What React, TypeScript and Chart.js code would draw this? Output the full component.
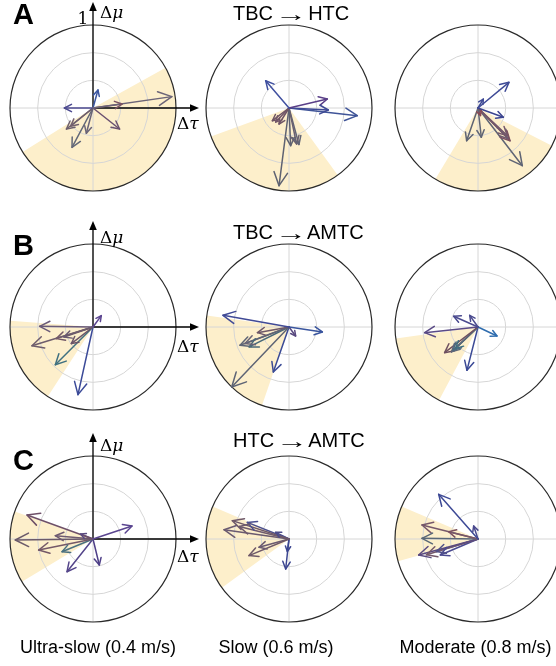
import React, { useEffect, useRef } from "react";
import { Chart, registerables } from "chart.js";
Chart.register(...registerables);

// ---------- text ----------
const rowTitleFrom = ["TBC", "TBC", "HTC"];
const rowTitleTo = ["HTC", "AMTC", "AMTC"];
const titleArrow = "→";
const rowLetters = ["A", "B", "C"];
const speedLabels = ["Ultra-slow (0.4 m/s)", "Slow (0.6 m/s)", "Moderate (0.8 m/s)"];
const ringLevels = [1 / 3, 2 / 3, 1];
const axisMaxLabel = "1";

// ---------- shaded wedge angles (degrees, counter-clockwise from +Δτ) ----------
const wedgeFrom = [
  [-148, -160, -121],
  [175.6, 172, 188],
  [160.6, 157, 157],
];
const wedgeTo = [
  [29, -54, -27],
  [237, 251, 242],
  [211, 216, 195.5],
];

// ---------- arrow tips (Δτ, Δμ) ----------
// A: TBC -> HTC
const aUltraDx = [0.95, 0.35, 0.06, -0.345, -0.32, -0.27, -0.253, -0.08, 0.32];
const aUltraDy = [0.137, 0.048, 0.217, 0, -0.253, -0.22, -0.474, -0.305, -0.253];
const aSlowDx = [-0.281, 0.462, 0.474, 0.823, -0.2, -0.12, -0.16, 0.02, 0.092, 0.12, -0.12];
const aSlowDy = [0.329, 0.108, -0.024, -0.092, -0.153, -0.193, -0.17, -0.454, -0.434, -0.44, -0.936];
const aModDx = [0.373, 0.064, 0.305, 0.353, 0.373, 0.386, 0.534, 0.04, -0.137, 0.03];
const aModDy = [0.309, 0.108, -0.112, -0.333, -0.373, -0.394, -0.695, -0.353, -0.394, -0.09];
// B: TBC -> AMTC
const bUltraDx = [0.1, -0.643, -0.735, -0.442, -0.261, -0.454, -0.181, -0.35];
const bUltraDy = [0.137, 0.008, -0.225, -0.14, -0.2, -0.454, -0.815, -0.12];
const bSlowDx = [-0.795, 0.402, 0.08, -0.38, -0.59, -0.48, -0.53, -0.69, -0.189];
const bSlowDy = [0.141, -0.06, -0.108, -0.068, -0.22, -0.24, -0.2, -0.723, -0.542];
const bModDx = [-0.293, -0.1, -0.643, 0.229, -0.402, -0.32, -0.27, -0.3, -0.133];
const bModDy = [0.129, 0.14, -0.068, -0.108, -0.309, -0.3, -0.26, -0.28, -0.522];
// C: HTC -> AMTC
const cUltraDx = [0.47, -0.795, -0.936, -0.454, -0.655, -0.373, -0.313, 0.076, -0.15];
const cUltraDy = [0.157, 0.289, -0.012, 0.04, -0.133, -0.153, -0.394, -0.313, 0.06];
const cSlowDx = [-0.683, -0.783, -0.502, -0.6, -0.482, -0.361, -0.04, -0.02, -0.16];
const cSlowDy = [0.221, 0.112, 0.2, 0.15, -0.2, -0.1, -0.361, -0.15, 0.08];
const cModDx = [-0.474, -0.052, -0.675, -0.353, -0.675, -0.715, -0.62, -0.454, -0.5];
const cModDy = [0.538, 0.157, 0.169, 0.088, 0.008, -0.193, -0.19, -0.193, -0.15];

// ---------- arrow colours ----------
const aUltraCol = ["#6b6478", "#7a5262", "#3b55a0", "#4c4a90", "#6d5f6e", "#74606e", "#636878", "#6a6478", "#6a5070"];
const aSlowCol = ["#4050a0", "#5a3f88", "#3f4a95", "#3f5498", "#6e5565", "#6e5565", "#74586a", "#5f6270", "#6a6070", "#626575", "#5e6272"];
const aModCol = ["#3e4a96", "#3f4a95", "#3c4590", "#74586a", "#6d5c70", "#7a5060", "#5f6474", "#606574", "#5d6373", "#8a4a55"];
const bUltraCol = ["#5b4590", "#6a5a78", "#6e5d6c", "#725868", "#6a5468", "#3f7080", "#3b4a98", "#6a5a70"];
const bSlowCol = ["#404a96", "#3a559e", "#5a4a80", "#6e5868", "#5f6575", "#4a6a7a", "#6a6476", "#5e6475", "#3b4b96"];
const bModCol = ["#4a4a8e", "#4a4a8e", "#5a4a86", "#2e6cae", "#6e5060", "#5f6678", "#3e7080", "#4a6a80", "#3b4a96"];
const cUltraCol = ["#5a4590", "#6e5068", "#6b5a6a", "#6e5a70", "#745868", "#4a7080", "#54458a", "#4e3f88", "#5a4a80"];
const cSlowCol = ["#6e5868", "#6a5a70", "#4a4f90", "#6e5a6e", "#6e5868", "#6a5a70", "#3b4590", "#3b4590", "#4a4a8a"];
const cModCol = ["#3e4a96", "#4a4a8e", "#76586a", "#7a5060", "#5a6878", "#5a4a80", "#74586a", "#4a4a90", "#505088"];

const panelDx = [
  [aUltraDx, aSlowDx, aModDx],
  [bUltraDx, bSlowDx, bModDx],
  [cUltraDx, cSlowDx, cModDx],
];
const panelDy = [
  [aUltraDy, aSlowDy, aModDy],
  [bUltraDy, bSlowDy, bModDy],
  [cUltraDy, cSlowDy, cModDy],
];
const panelCol = [
  [aUltraCol, aSlowCol, aModCol],
  [bUltraCol, bSlowCol, bModCol],
  [cUltraCol, cSlowCol, cModCol],
];

// ---------- layout ----------
const colCenters = [92.5, 288.5, 478];
const rowCenters = [107.5, 327, 538.7];
const RADIUS_PX = 83;
const CANVAS = 240;
const HALF = CANVAS / 2 / RADIUS_PX;
const AXIS_LEN = 1.277;
const WEDGE_COLOR = "#fdefcb";
const GRID_COLOR = "#d6d6d6";
const FONT_SANS = '"Liberation Sans", Arial, Helvetica, sans-serif';
const FONT_SERIF = '"DejaVu Serif", "Liberation Serif", serif';

function Panel({ row, col }: { row: number; col: number }) {
  const ref = useRef<HTMLCanvasElement | null>(null);
  useEffect(() => {
    if (!ref.current) return;
    const dx = panelDx[row][col];
    const dy = panelDy[row][col];
    const colors = panelCol[row][col];
    const a1 = wedgeFrom[row][col];
    const a2 = wedgeTo[row][col];
    const showAxes = col === 0;

    const backdrop = {
      id: "polarBackdrop",
      beforeDatasetsDraw(chart: any) {
        const ctx = chart.ctx;
        const xs = chart.scales.x;
        const ys = chart.scales.y;
        const cx = xs.getPixelForValue(0);
        const cy = ys.getPixelForValue(0);
        const R = xs.getPixelForValue(1) - cx;
        ctx.save();
        ctx.beginPath();
        ctx.moveTo(cx, cy);
        ctx.arc(cx, cy, R, (-a2 * Math.PI) / 180, (-a1 * Math.PI) / 180);
        ctx.closePath();
        ctx.fillStyle = WEDGE_COLOR;
        ctx.fill();
        ctx.strokeStyle = GRID_COLOR;
        ctx.lineWidth = 1;
        ringLevels.slice(0, 2).forEach((f) => {
          ctx.beginPath();
          ctx.arc(cx, cy, R * f, 0, Math.PI * 2);
          ctx.stroke();
        });
        ctx.beginPath();
        ctx.moveTo(xs.getPixelForValue(-1), cy);
        ctx.lineTo(xs.getPixelForValue(1), cy);
        ctx.moveTo(cx, ys.getPixelForValue(-1));
        ctx.lineTo(cx, ys.getPixelForValue(1));
        ctx.stroke();
        ctx.strokeStyle = "#2a2a2a";
        ctx.lineWidth = 1.2;
        ctx.beginPath();
        ctx.arc(cx, cy, R * ringLevels[2], 0, Math.PI * 2);
        ctx.stroke();
        if (showAxes) {
          const tx = xs.getPixelForValue(AXIS_LEN);
          const ty = ys.getPixelForValue(AXIS_LEN);
          ctx.strokeStyle = "#000";
          ctx.fillStyle = "#000";
          ctx.lineWidth = 1.3;
          ctx.beginPath();
          ctx.moveTo(cx, cy);
          ctx.lineTo(tx - 6, cy);
          ctx.moveTo(cx, cy);
          ctx.lineTo(cx, ty + 6);
          ctx.stroke();
          ctx.beginPath();
          ctx.moveTo(tx, cy);
          ctx.lineTo(tx - 9, cy - 3.8);
          ctx.lineTo(tx - 9, cy + 3.8);
          ctx.closePath();
          ctx.fill();
          ctx.beginPath();
          ctx.moveTo(cx, ty);
          ctx.lineTo(cx - 3.8, ty + 9);
          ctx.lineTo(cx + 3.8, ty + 9);
          ctx.closePath();
          ctx.fill();
        }
        ctx.restore();
      },
      afterDatasetsDraw(chart: any) {
        const ctx = chart.ctx;
        const half = (27 * Math.PI) / 180;
        ctx.save();
        chart.data.datasets.forEach((ds: any, i: number) => {
          const meta = chart.getDatasetMeta(i);
          const p0 = meta.data[0];
          const p1 = meta.data[1];
          if (!p0 || !p1) return;
          const ang = Math.atan2(p1.y - p0.y, p1.x - p0.x);
          const L = Math.hypot(p1.x - p0.x, p1.y - p0.y);
          const h = 4 + 0.14 * L;
          ctx.strokeStyle = ds.borderColor;
          ctx.lineWidth = 1.5;
          ctx.lineCap = "round";
          ctx.lineJoin = "round";
          ctx.beginPath();
          ctx.moveTo(p1.x - h * Math.cos(ang - half), p1.y - h * Math.sin(ang - half));
          ctx.lineTo(p1.x, p1.y);
          ctx.lineTo(p1.x - h * Math.cos(ang + half), p1.y - h * Math.sin(ang + half));
          ctx.stroke();
        });
        ctx.restore();
      },
    };

    const chart = new Chart(ref.current, {
      type: "scatter",
      data: {
        datasets: dx.map((x, i) => ({
          data: [
            { x: 0, y: 0 },
            { x, y: dy[i] },
          ],
          showLine: true,
          borderColor: colors[i],
          borderWidth: 1.5,
          pointRadius: 0,
          pointHoverRadius: 0,
          borderCapStyle: "round",
        })),
      },
      options: {
        responsive: false,
        animation: false,
        events: [],
        layout: { padding: 0 },
        plugins: { legend: { display: false }, tooltip: { enabled: false }, title: { display: false } },
        scales: {
          x: { type: "linear", min: -HALF, max: HALF, display: false },
          y: { type: "linear", min: -HALF, max: HALF, display: false },
        },
      },
      plugins: [backdrop],
    } as any);
    return () => chart.destroy();
  }, [row, col]);

  return (
    <canvas
      ref={ref}
      width={CANVAS}
      height={CANVAS}
      style={{
        position: "absolute",
        left: colCenters[col] - CANVAS / 2,
        top: rowCenters[row] - CANVAS / 2,
        width: CANVAS,
        height: CANVAS,
        display: "block",
      }}
    />
  );
}

const letterTops = [0.2, 230.5, 446];
const titleTops = [3, 222, 429.5];
const muTops = [4.3, 228.8, 437.3];
const tauTops = [115, 338, 548];
const labelCenters = [98, 276, 475.5];

export default function App() {
  const cells: any[] = [];
  for (let r = 0; r < 3; r++) for (let c = 0; c < 3; c++) cells.push(<Panel key={`${r}-${c}`} row={r} col={c} />);
  const abs = (extra: any) => ({ position: "absolute", whiteSpace: "nowrap", margin: 0, ...extra });
  return (
    <div style={{ position: "fixed", left: 0, top: 0, width: 556, height: 666, background: "#fff", overflow: "hidden" }}>
      {cells}
      {rowLetters.map((l, r) => (
        <div key={l} style={abs({ left: 13, top: letterTops[r], font: `bold 29px/29px ${FONT_SANS}`, color: "#000" })}>
          {l}
        </div>
      ))}
      {rowTitleFrom.map((t, r) => (
        <div key={"title" + r} style={abs({ left: 233, top: titleTops[r], font: `20px/20px ${FONT_SANS}`, color: "#000" })}>
          {t}{" "}
          <span
            style={{
              display: "inline-block",
              width: 24,
              textAlign: "center",
              transform: "scaleX(1.6)",
              transformOrigin: "center",
              position: "relative",
              top: 1,
            }}
          >
            {titleArrow}
          </span>
          {" "}{rowTitleTo[r]}
        </div>
      ))}
      {muTops.map((t, r) => (
        <div key={"mu" + r} style={abs({ left: 100, top: t, font: `17px/17px ${FONT_SERIF}`, color: "#000" })}>
          Δ<i>μ</i>
        </div>
      ))}
      {tauTops.map((t, r) => (
        <div key={"tau" + r} style={abs({ left: 177, top: t, font: `17px/17px ${FONT_SERIF}`, color: "#000" })}>
          Δ<i>τ</i>
        </div>
      ))}
      <div style={abs({ left: 77.5, top: 9.6, font: `17px/17px ${FONT_SERIF}`, color: "#000" })}>{axisMaxLabel}</div>
      {speedLabels.map((s, c) => (
        <div
          key={s}
          style={abs({ left: labelCenters[c] - 150, width: 300, textAlign: "center", top: 638, font: `18px/18px ${FONT_SANS}`, color: "#000" })}
        >
          {s}
        </div>
      ))}
    </div>
  );
}
